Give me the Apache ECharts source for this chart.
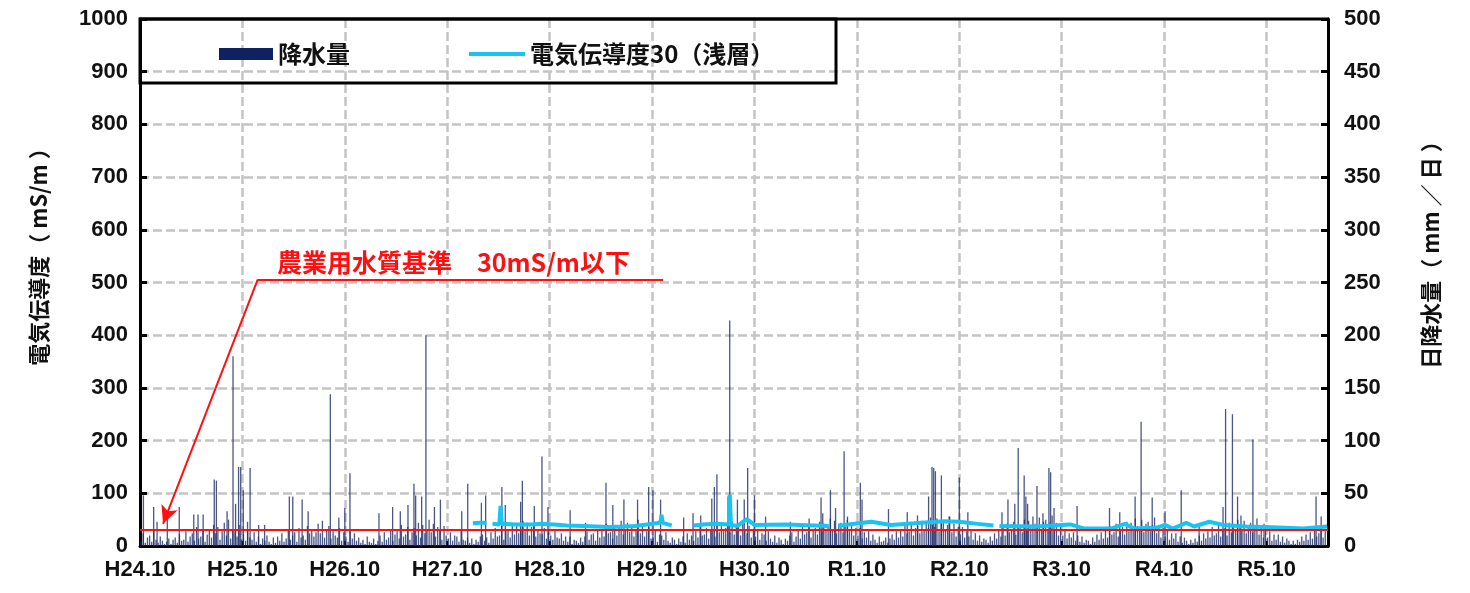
<!DOCTYPE html>
<html>
<head>
<meta charset="utf-8">
<script src="https://cdn.jsdelivr.net/npm/echarts@6/dist/echarts.min.js"></script>
<style>
html,body{margin:0;padding:0;background:#fff;}
#chart{width:1470px;height:593px;}
</style>
</head>
<body>
<div id="chart"></div>
<script>
// x positions are months counted from H24.10 (Oct 2012)
const tickLabels = ['H24.10','H25.10','H26.10','H27.10','H28.10','H29.10','H30.10','R1.10','R2.10','R3.10','R4.10','R5.10'];

// Notable daily rainfall peaks [month, mm/day]
const rainHeavy = [
  [0.4,48],[1.6,37],[2.0,23],[3.2,33],[4.6,37],[6.3,30],[6.8,30],[7.4,30],[8.7,63],[8.95,62],[10.2,33],[10.9,180],[11.2,40],[11.55,75],[11.8,75],[12.1,53],[12.6,23],[12.9,74],
  [13.9,20],[14.6,20],[17.5,47],[17.9,47],[19.0,44],[19.7,33],[22.3,144],[23.3,27],[24.0,36],[24.6,69],
  [28.0,31],[29.6,37],[30.5,33],[31.4,39],[32.1,59],[32.3,48],[33.0,47],[33.5,200],[34.5,37],[35.2,44],
  [37.7,33],[38.4,59],[40.0,41],[40.5,48],[42.4,56],[42.8,39],[44.6,42],[44.8,62],[46.2,38],[47.1,85],[47.8,37],
  [50.4,34],[52.2,22],[54.6,60],[55.4,39],[56.7,44],[58.3,44],[59.6,56],[60.1,53],[61.0,44],
  [63.7,27],[64.8,31],[65.7,29],[67.0,45],[67.3,56],[67.6,68],[68.9,47],[69.1,214],[70.0,44],[70.8,44],[71.2,74],[72.0,48],
  [73.3,28],[76.2,23],[78.4,26],[79.8,46],[80.0,31],[80.9,53],[81.5,36],[82.5,90],[82.9,28],[84.4,60],[84.6,44],
  [87.7,35],[89.9,32],[91.1,29],[92.4,47],[92.8,75],[93.0,74],[93.2,71],[93.9,67],[94.8,28],[96.0,65],
  [97.0,32],[101.0,32],[101.7,44],[102.5,40],[102.9,93],[103.6,67],[103.8,47],[104.0,40],[105.1,57],[105.8,31],[106.5,74],[106.7,70],[107.1,36],
  [109.8,38],[113.6,36],[114.8,32],[116.6,47],[117.3,118],[118.6,46],[120.1,33],
  [122.0,53],[124.1,20],[126.9,37],[127.2,130],[128.0,125],[128.6,47],[129.0,29],[130.4,101],[131.7,21],
  [137.8,47],[138.4,28]
];

// Everyday rainfall, four readings per month, one row per water year (Oct..Sep)
const rainLight = [
  [5,12,3,8, 10,4,15,6, 3,9,5,2, 4,7,2,6, 8,3,11,5, 6,14,4,9, 12,5,18,7, 9,16,4,11, 15,8,20,12, 18,6,14,22, 10,25,7,16, 14,9,20,6],
  [11,5,16,8, 6,13,4,9, 2,7,5,10, 4,2,8,3, 9,5,12,4, 7,15,6,10, 13,4,17,8, 10,6,19,12, 16,9,13,21, 12,24,8,15, 19,7,14,10, 8,17,5,13],
  [9,4,14,7, 12,5,8,3, 6,2,9,4, 3,7,2,5, 10,4,13,6, 8,16,5,11, 14,7,20,9, 11,18,6,13, 17,10,22,8, 20,12,16,25, 13,21,9,18, 15,6,19,10],
  [7,13,5,10, 9,4,14,6, 5,8,3,7, 2,6,4,9, 11,5,8,3, 13,7,17,9, 10,19,6,14, 15,8,21,11, 19,12,16,24, 14,22,10,18, 20,9,15,12, 11,17,7,14],
  [10,6,15,8, 7,12,5,9, 4,9,2,6, 5,3,8,4, 9,14,6,11, 12,5,16,8, 15,9,21,12, 13,7,18,10, 18,24,11,16, 22,13,19,9, 16,25,12,20, 9,14,18,7],
  [8,15,4,11, 10,6,13,5, 3,8,6,2, 7,4,9,3, 12,6,10,5, 14,8,19,10, 11,17,7,15, 16,9,22,13, 20,14,17,25, 13,23,11,19, 18,10,24,15, 12,19,8,16],
  [9,16,6,12, 11,5,14,7, 4,10,3,8, 6,2,7,5, 10,13,4,9, 15,7,18,11, 13,20,8,16, 17,11,23,14, 21,15,19,26, 16,24,12,20, 22,13,18,25, 14,20,10,17],
  [10,17,7,13, 8,14,5,11, 6,3,9,4, 5,8,3,7, 11,6,14,8, 16,9,20,12, 14,22,10,17, 19,12,24,15, 23,17,27,20, 18,26,14,22, 24,15,20,28, 13,21,9,18],
  [11,18,8,14, 9,15,6,12, 5,10,4,7, 6,3,9,5, 12,7,15,9, 17,10,21,13, 15,23,11,18, 20,13,25,16, 24,18,28,21, 19,27,15,23, 25,16,22,29, 14,22,10,19],
  [10,16,7,12, 8,13,5,10, 4,9,3,6, 5,2,8,4, 11,6,13,7, 15,8,19,11, 13,21,9,16, 18,11,23,14, 22,16,26,19, 17,25,13,21, 23,14,20,27, 12,20,8,17],
  [9,15,6,12, 7,12,4,9, 3,8,5,2, 6,3,7,4, 10,5,12,7, 14,8,18,10, 12,20,9,15, 17,10,22,13, 21,15,25,18, 16,24,12,20, 22,13,19,26, 11,19,8,16],
  [8,14,5,11, 6,11,4,9, 3,7,5,2, 5,2,6,4, 9,5,11,6, 13,7,16,9, 12,18,8,14]
];

// Electrical conductivity 30 (shallow layer), mS/m; '-' marks a gap in records
const ecShallow = [
  [39.0,43],[39.8,44],[40.6,44],[40.95,'-'],
  [41.3,42],[42.1,41],[42.25,76],[42.4,42],[44,41],[46,41],[47,42],[48.5,41],[50,39],[52,38],[54.9,36],[56.5,37],[58,38],[59.4,41],[60.5,43],[61.0,45],[61.1,59],[61.25,44],[62.3,39],[63.5,'-'],
  [64.9,39],[66,41],[67.5,42],[69.0,41],[69.1,97],[69.25,40],[70,38],[71.1,51],[72,40],[75.6,41],[80.7,38],[81.2,'-'],
  [81.8,39],[82.5,40],[85.7,46],[88,40],[90.7,43],[94.2,47],[96,46],[98.2,42],[100,39],[100.35,'-'],
  [100.7,38],[105,37],[109,41],[110.7,33],[113.8,33],[115.4,42],[116.5,33],[119.2,35],[120.1,40],[121,33],[122.6,44],[123.5,37],[125.3,46],[126.9,40],[129.6,37],[131.8,36],[136.3,33],[139.1,37]
];

const standardValue = 30;
const annotationText = '農業用水質基準　30mS/m以下';

const rainData = [];
rainLight.forEach((row, y) => {
  row.forEach((v, i) => {
    rainData.push([y * 12 + Math.floor(i / 4) + ((i % 4) + 0.5) / 4, v]);
  });
});
rainHeavy.forEach(p => rainData.push(p));
rainData.sort((a, b) => a[0] - b[0]);

const numFont = 'Liberation Sans, Arial, sans-serif';
const cjkFont = 'Noto Sans CJK JP, sans-serif';
const gridDash = {color: '#c4c4c4', width: 2.5, type: [9, 4]};

const chart = echarts.init(document.getElementById('chart'));
chart.setOption({
  animation: false,
  backgroundColor: '#fff',
  grid: {left: 140, right: 142, top: 19, bottom: 47, show: false},
  legend: [
    {data: [{name: '降水量', itemStyle: {color: '#0f2160', opacity: 1}}], left: 214, top: 37, itemWidth: 54, itemHeight: 12, icon: 'rect',
     textStyle: {fontFamily: cjkFont, fontSize: 24, fontWeight: 'bold', color: '#111'}},
    {data: ['電気伝導度30（浅層）'], left: 464, top: 37, itemWidth: 56, itemHeight: 4, icon: 'rect',
     textStyle: {fontFamily: cjkFont, fontSize: 24, fontWeight: 'bold', color: '#111'}}
  ],
  xAxis: {
    type: 'value', min: 0, max: 139.2, interval: 12,
    axisLine: {show: true, lineStyle: {color: '#000', width: 3}},
    axisTick: {show: true, inside: true, length: 5, lineStyle: {color: '#000', width: 2}},
    axisLabel: {margin: 13, fontFamily: numFont, fontSize: 22, fontWeight: 'bold', color: '#111',
      formatter: v => { const k = Math.round(v / 12); return Math.abs(v - k * 12) < 1e-6 ? (tickLabels[k] || '') : ''; }},
    splitLine: {show: true, showMinLine: false, showMaxLine: false, lineStyle: gridDash}
  },
  yAxis: [
    {type: 'value', min: 0, max: 1000, interval: 100, position: 'left',
     name: '電気伝導度（ mS/m ）', nameLocation: 'middle', nameRotate: 90, nameGap: 90,
     nameTextStyle: {fontFamily: cjkFont, fontSize: 22, fontWeight: 'bold', color: '#111', padding: [0, 0, 0, 62]},
     axisLine: {show: true, lineStyle: {color: '#000', width: 3}},
     axisTick: {show: true, inside: true, length: 7, lineStyle: {color: '#000', width: 3}},
     axisLabel: {margin: 12, fontFamily: numFont, fontSize: 22, fontWeight: 'bold', color: '#111', formatter: v => String(v)},
     splitLine: {show: true, showMinLine: false, showMaxLine: false, lineStyle: gridDash}},
    {type: 'value', min: 0, max: 500, interval: 50, position: 'right',
     name: '日降水量（ mm ／ 日 ）', nameLocation: 'middle', nameRotate: 90, nameGap: 92,
     nameTextStyle: {fontFamily: cjkFont, fontSize: 22, fontWeight: 'bold', color: '#111', padding: [0, 0, 0, 66]},
     axisLine: {show: true, lineStyle: {color: '#000', width: 3}},
     axisTick: {show: true, inside: true, length: 7, lineStyle: {color: '#000', width: 3}},
     axisLabel: {margin: 16, fontFamily: numFont, fontSize: 22, fontWeight: 'bold', color: '#111', formatter: v => String(v)},
     splitLine: {show: false}}
  ],
  graphic: [
    {type: 'line', z: 100, shape: {x1: 139, y1: 19, x2: 1329, y2: 19}, style: {stroke: '#000', lineWidth: 3}},
    {type: 'rect', z: 100, shape: {x: 140, y: 19, width: 696, height: 64},
     style: {fill: 'transparent', stroke: '#000', lineWidth: 3}}
  ],
  series: [
    {name: '降水量', type: 'bar', yAxisIndex: 1, data: rainData, barWidth: 1.3,
     itemStyle: {color: 'rgba(28,44,104,0.8)'}, z: 2, silent: true},
    {name: 'ref', type: 'line', yAxisIndex: 0, data: [], z: 3, silent: true,
     markLine: {silent: true, animation: false, symbol: 'none',
      lineStyle: {color: '#ff1010', width: 2, type: 'solid'},
      label: {show: false},
      emphasis: {disabled: true},
      data: [
        [{coord: [0, standardValue]}, {coord: [139.2, standardValue]}],
        [{coord: [13.8, 506], label: {show: true, position: 'middle', distance: 4, formatter: annotationText,
          fontFamily: cjkFont, fontSize: 25, fontWeight: 'bold', color: '#ff1010', padding: [0, 14, 0, 0]}},
         {coord: [61.3, 506]}],
        [{coord: [13.8, 506], symbol: 'none'}, {coord: [2.7, 42], symbol: 'arrow', symbolSize: [13, 18]}]
      ]}},
    {name: '電気伝導度30（浅層）', type: 'line', yAxisIndex: 0, data: ecShallow, z: 4,
     showSymbol: false, connectNulls: false, silent: true,
     lineStyle: {color: '#19c4f2', width: 4}, itemStyle: {color: '#19c4f2'}}
  ]
});
</script>
</body>
</html>
